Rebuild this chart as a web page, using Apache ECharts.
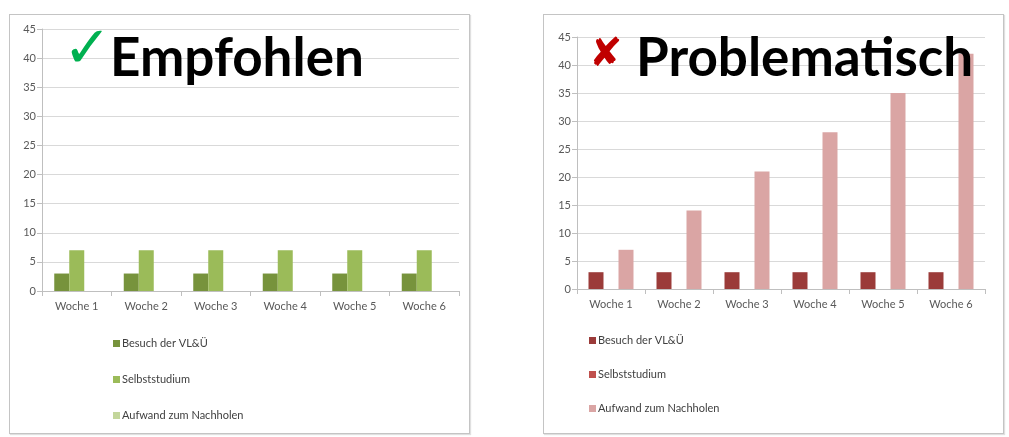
<!DOCTYPE html>
<html>
<head>
<meta charset="utf-8">
<script src="https://cdn.jsdelivr.net/npm/echarts@6/dist/echarts.min.js"></script>
<style>
  html, body { margin: 0; padding: 0; background: #fff; width: 1009px; height: 437px; overflow: hidden; }
  .box { position: absolute; border: 1px solid #c4c4c4; box-shadow: 1px 1px 1px rgba(0,0,0,0.12); background: #fff; }
  .chart { width: 459px; height: 418px; }
</style>
</head>
<body>
<div class="box" style="left:9px; top:14px;"><div id="c1" class="chart"></div></div>
<div class="box" style="left:543px; top:14px;"><div id="c2" class="chart"></div></div>
<script>
const categories = ['Woche 1', 'Woche 2', 'Woche 3', 'Woche 4', 'Woche 5', 'Woche 6'];
const seriesNames = ['Besuch der VL&Ü', 'Selbststudium', 'Aufwand zum Nachholen'];

// Empfohlen (left)
const empBesuch = [3, 3, 3, 3, 3, 3];
const empSelbst = [7, 7, 7, 7, 7, 7];
const empAufwand = [0, 0, 0, 0, 0, 0];

// Problematisch (right)
const probBesuch = [3, 3, 3, 3, 3, 3];
const probSelbst = [0, 0, 0, 0, 0, 0];
const probAufwand = [7, 14, 21, 28, 35, 42];

const yTicks = { min: 0, max: 45, interval: 5 };

const greenColors = ['#77933C', '#9BBB59', '#C3D69B'];
const redColors = ['#9B3B39', '#C0504D', '#DAA5A4'];

function makeOption(cfg) {
  const data = [cfg.besuch, cfg.selbst, cfg.aufwand];
  return {
    animation: false,
    textStyle: { fontFamily: 'Lato, "Open Sans", sans-serif' },
    grid: cfg.grid,
    legend: {
      orient: 'vertical',
      left: cfg.legendLeft,
      top: cfg.legendTop,
      itemWidth: 7,
      itemHeight: 7,
      itemGap: cfg.legendGap,
      icon: 'rect',
      data: seriesNames,
      textStyle: { fontSize: 11, color: '#404040', fontFamily: 'Lato, "Open Sans", sans-serif', padding: [0, 0, 0, -3] }
    },
    xAxis: {
      type: 'category',
      data: categories,
      axisLine: { lineStyle: { color: '#bfbfbf' } },
      axisTick: { show: true, length: 5, lineStyle: { color: '#bfbfbf' } },
      axisLabel: { fontSize: 11, color: '#595959', margin: 10 }
    },
    yAxis: {
      type: 'value',
      min: yTicks.min, max: yTicks.max, interval: yTicks.interval,
      axisLine: { show: true, lineStyle: { color: '#bfbfbf' } },
      axisTick: { show: true, length: 5, lineStyle: { color: '#bfbfbf' } },
      axisLabel: { fontSize: 11, color: '#595959', margin: 6 },
      splitLine: { lineStyle: { color: '#d9d9d9' } }
    },
    series: seriesNames.map((n, i) => ({
      name: n,
      type: 'bar',
      data: data[i],
      barWidth: 15,
      barGap: '0%',
      itemStyle: { color: cfg.colors[i] }
    })),
    graphic: [
      {
        type: 'text', z: 100, left: cfg.iconX, top: cfg.iconY,
        style: { text: cfg.icon, font: cfg.iconFont, fill: cfg.iconColor }
      },
      {
        type: 'text', z: 100, left: cfg.titleX, top: cfg.titleY,
        style: { text: cfg.title, font: 'bold 53px Lato, "Open Sans", sans-serif', fill: '#000' }
      }
    ]
  };
}

const c1 = echarts.init(document.getElementById('c1'));
c1.setOption(makeOption({
  besuch: empBesuch, selbst: empSelbst, aufwand: empAufwand,
  colors: greenColors,
  grid: { left: 32, right: 10, top: 14, bottom: 142, containLabel: false },
  legendLeft: 98, legendTop: 318, legendGap: 25,
  icon: '✓', iconFont: 'bold 58px "DejaVu Sans"', iconColor: '#00B050', iconX: 53, iconY: 8,
  title: 'Empfohlen', titleX: 100, titleY: 17
}));

const c2 = echarts.init(document.getElementById('c2'));
c2.setOption(makeOption({
  besuch: probBesuch, selbst: probSelbst, aufwand: probAufwand,
  colors: redColors,
  grid: { left: 33, right: 18, top: 22, bottom: 144, containLabel: false },
  legendLeft: 40, legendTop: 315, legendGap: 23,
  icon: '✘', iconFont: 'bold 40px "DejaVu Sans"', iconColor: '#C00000', iconX: 45, iconY: 21,
  title: 'Problematisch', titleX: 92, titleY: 17
}));
</script>
</body>
</html>
